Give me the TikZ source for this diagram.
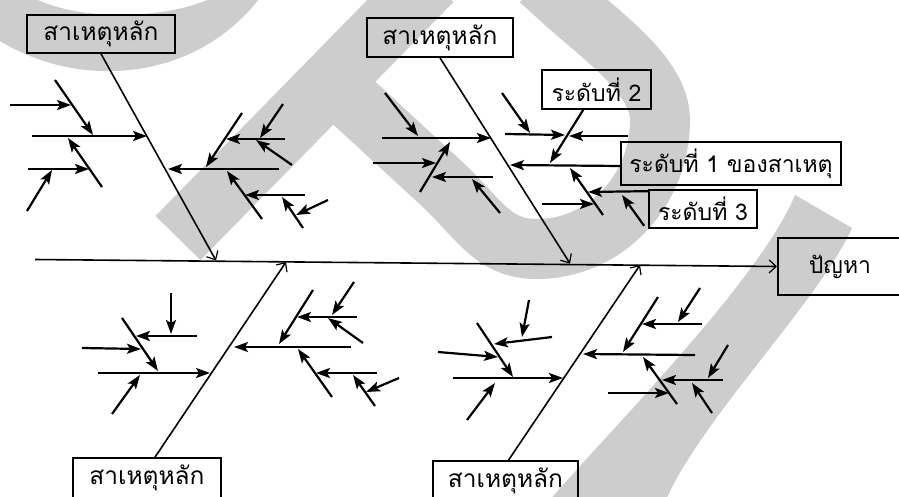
\documentclass[tikz,border=0pt]{standalone}
\usepackage{fontspec}
\newfontfamily\thai[Script=Thai]{Loma}
\usetikzlibrary{arrows.meta,calc}
\definecolor{wm}{RGB}{205,205,205}
\tikzset{
  cause/.style={line width=2.2pt, -{Stealth[length=14pt,width=10pt,inset=3pt]}},
  bone/.style={line width=1.6pt, -{Straight Barb[length=7pt,width=13pt,line width=1.2pt]}},
  lbl/.style={draw, line width=1.7pt, font=\thai\fontsize{23}{27}\selectfont, inner sep=0pt},
  mainlbl/.style={lbl, font=\thai\fontsize{24.5}{28}\selectfont},
}
\begin{document}
\begin{tikzpicture}[x=1pt,y=-1pt]
\useasboundingbox (0,0) rectangle (899,497);
\begin{scope}
\clip (0,0) rectangle (899,497);
% background mark
\fill[wm] (-5,-5) -- (-5,38) .. controls (30,60) and (70,72) .. (112,71)
  .. controls (170,70) and (225,45) .. (262,-5) -- (218,-5)
  .. controls (190,10) and (150,15) .. (120,15)
  .. controls (85,15) and (50,8) .. (28,-5) -- cycle;
\draw[wm, line width=63pt] (178,238) -- (431,-20);
\draw[wm, line width=60pt] (340,90) -- (440,182) .. controls (480,219) and (492,249) .. (537,249)
  .. controls (605,249) and (660,191) .. (660,120)
  .. controls (660,75) and (600,35) .. (562,0) -- (540,-20);
\fill[wm] (548,502) .. controls (610,430) and (760,280) .. (795,195) -- (852,228)
  .. controls (820,300) and (700,420) .. (665,502) -- cycle;

% boxes
\node[mainlbl, minimum width=148pt, minimum height=38pt] (c1) at (101,34) {สาเหตุหลัก};
\node[mainlbl, minimum width=146pt, minimum height=39pt] (c2) at (440,37.5) {สาเหตุหลัก};
\node[mainlbl, minimum width=148pt, minimum height=40pt] (c3) at (147,478) {สาเหตุหลัก};
\node[mainlbl, minimum width=145pt, minimum height=40pt] (c4) at (505.5,481) {สาเหตุหลัก};
\node[lbl, minimum width=109pt, minimum height=39pt] (lv2) at (596.5,89.5) {ระดับที่ 2};
\node[lbl, minimum width=220pt, minimum height=43pt] (lv1) at (731,163.5) {ระดับที่ 1 ของสาเหตุ};
\node[lbl, minimum width=108pt, minimum height=38pt] (lv3) at (703,209) {ระดับที่ 3};
\node[lbl, minimum width=162pt, minimum height=57pt, anchor=west, text width=100pt,
      align=left, inner xsep=31pt] (prob) at (777,266.5) {ปัญหา};

% spine and main bones
\coordinate (spL) at (35,259.5);
\draw[bone] (spL) -- (prob.west);
\coordinate (b1) at (216,260.5);
\coordinate (b2) at (570,263.5);
\coordinate (b3) at (286,262);
\coordinate (b4) at (640,265);
\draw[bone] (c1.south) -- (b1);
\draw[bone] (c2.south) -- (b2);
\draw[bone] ($(c3.north)+(8,0)$) -- (b3);
\draw[bone] ($(c4.north)+(3,0)$) -- (b4);

% branches tied to the level boxes
\coordinate (t22) at (510,165);
\draw[cause] (lv1.west |- 0,166) -- (t22);
\coordinate (t23) at (550,163);
\draw[cause] ($(lv2.south west)!0.38!(lv2.south east)$) -- (t23);
\coordinate (t28) at (588,192);
\draw[cause] ($(lv3.north west)+(0,2)$) -- (t28);
\coordinate (t30) at (622,195);
\draw[cause] ($(lv3.south west)+(-4,-3)$) -- (t30);

% sub-causes
\foreach \i/\sx/\sy/\ex/\ey in {
  1/32/136/147/136, 2/55/80/93/135, 3/10/105/71/105, 4/102/187/68/138,
  5/28/169/89/169, 6/27/211/52/170,
  7/279/169/168/169, 8/242/113/206/167, 9/285/139/226/139, 10/283/104/260/138,
  11/292/165/256/140, 12/262/219/227/171, 13/305/195/245/195, 14/303/228/282/197,
  15/328/200/296/215,
  16/382/138/491/138, 17/385/93/418/136, 18/373/163/436/163, 19/420/192/450/142,
  20/493/177/432/177, 21/500/213/472/179,
  24/505/134/565/135, 25/628/136/569/136, 26/502/93/530/133, 27/603/215/570/168,
  29/542/204/594/204,
  31/98/373/210/373, 32/122/318/158/371, 33/82/348/141/349, 34/197/336/136/336,
  35/171/293/171/334, 36/112/414/140/375,
  37/351/347/234/347, 38/313/290/279/344, 39/357/317/297/317, 40/354/282/332/315,
  41/363/343/328/318, 42/332/397/298/349, 43/377/373/316/373, 44/375/406/353/375,
  45/399/378/366/392,
  46/453/378/563/378, 47/477/323/513/377, 48/438/352/498/357, 49/552/337/494/344,
  50/529/300/522/337, 51/467/420/495/383,
  52/695/355/583/354, 53/658/297/623/352, 54/702/324/642/324, 55/700/288/678/322,
  56/677/404/643/357, 57/723/380/662/380, 58/608/393/669/393, 59/728/345/708/378,
  60/712/413/692/383} {
  \coordinate (s\i) at (\sx,\sy);
  \coordinate (t\i) at (\ex,\ey);
  \draw[cause] (s\i) -- (t\i);
}
\end{scope}
\end{tikzpicture}
\end{document}
